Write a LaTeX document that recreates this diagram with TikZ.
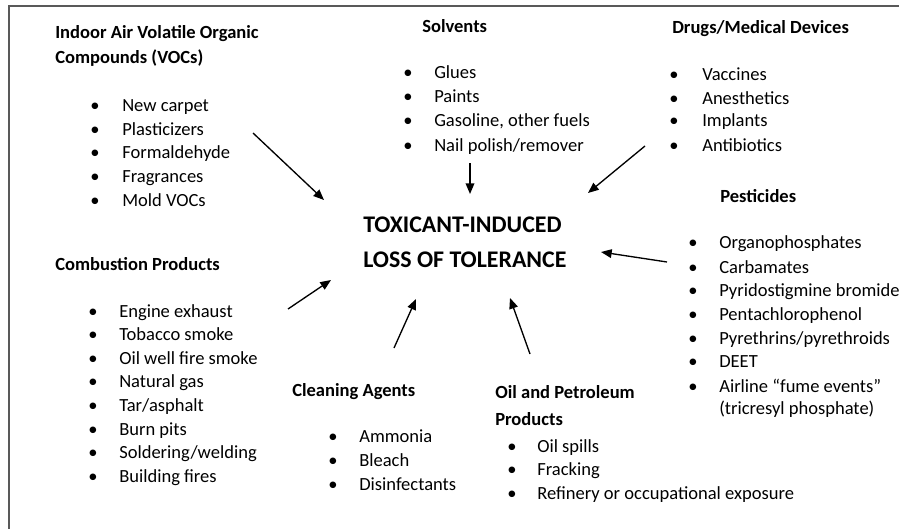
\documentclass[tikz,border=0pt]{standalone}
\usepackage{fontspec}
\setmainfont{Carlito}
\usetikzlibrary{arrows.meta}

\tikzset{
  head/.style={anchor=base west, inner sep=0pt, font=\fontsize{13.9}{16}\selectfont\bfseries},
  item/.style={anchor=base west, inner sep=0pt, font=\fontsize{13.9}{16}\selectfont},
  title/.style={anchor=base west, inner sep=0pt, font=\fontsize{17.9}{20}\selectfont\bfseries},
  feed/.style={line width=1pt, -{Triangle[length=8pt,width=6.5pt]}},
  frame/.style={line width=1.4pt, draw=black!65},
}

% one bullet line: name, bullet x, text x, baseline y, text
\newcommand\bulletline[5]{%
  \node[item] (#1dot) at (#2,#4) {•};
  \node[item] (#1) at (#3,#4) {#5};
}

\begin{document}
\begin{tikzpicture}[x=0.75pt, y=-0.75pt]
\useasboundingbox (0,0) rectangle (899,528);

% outer frame (left and top edges)
\draw[frame] (9,540) -- (9,6) -- (910,6);

% central outcome
\node[title] (tilt1) at (363,232) {TOXICANT-INDUCED};
\node[title] (tilt2) at (363,267) {LOSS OF TOLERANCE};

% indoor air VOCs
\node[head] (vocA) at (55,39) {Indoor Air Volatile Organic};
\node[head] (vocB) at (55,64) {Compounds (VOCs)};
\bulletline{voc1}{90}{122}{111}{New carpet}
\bulletline{voc2}{90}{122}{135}{Plasticizers}
\bulletline{voc3}{90}{122}{158}{Formaldehyde}
\bulletline{voc4}{90}{122}{182}{Fragrances}
\bulletline{voc5}{90}{122}{206}{Mold VOCs}

% solvents
\node[head] (solv) at (422,33) {Solvents};
\bulletline{sol1}{403}{434}{79}{Glues}
\bulletline{sol2}{403}{434}{103}{Paints}
\bulletline{sol3}{403}{434}{127}{Gasoline, other fuels}
\bulletline{sol4}{403}{434}{151}{Nail polish/remover}

% drugs and medical devices
\node[head] (drug) at (672,34) {Drugs/Medical Devices};
\bulletline{drg1}{669}{702}{80}{Vaccines}
\bulletline{drg2}{669}{702}{104}{Anesthetics}
\bulletline{drg3}{669}{702}{127}{Implants}
\bulletline{drg4}{669}{702}{151}{Antibiotics}

% pesticides
\node[head] (pest) at (720,202) {Pesticides};
\bulletline{pst1}{688}{719}{248}{Organophosphates}
\bulletline{pst2}{688}{719}{273}{Carbamates}
\bulletline{pst3}{688}{719}{296}{Pyridostigmine bromide}
\bulletline{pst4}{688}{719}{320}{Pentachlorophenol}
\bulletline{pst5}{688}{719}{344}{Pyrethrins/pyrethroids}
\bulletline{pst6}{688}{719}{367}{DEET}
\bulletline{pst7}{688}{719}{392}{Airline “fume events”}
\node[item] (pst8) at (719,414) {(tricresyl phosphate)};

% combustion products
\node[head] (comb) at (55,270) {Combustion Products};
\bulletline{cmb1}{88}{119}{317}{Engine exhaust}
\bulletline{cmb2}{88}{119}{340}{Tobacco smoke}
\bulletline{cmb3}{88}{119}{364}{Oil well fire smoke}
\bulletline{cmb4}{88}{119}{387}{Natural gas}
\bulletline{cmb5}{88}{119}{411}{Tar/asphalt}
\bulletline{cmb6}{88}{119}{435}{Burn pits}
\bulletline{cmb7}{88}{119}{458}{Soldering/welding}
\bulletline{cmb8}{88}{119}{482}{Building fires}

% cleaning agents
\node[head] (clean) at (292,396) {Cleaning Agents};
\bulletline{cln1}{328}{359}{442}{Ammonia}
\bulletline{cln2}{328}{359}{466}{Bleach}
\bulletline{cln3}{328}{359}{490}{Disinfectants}

% oil and petroleum products
\node[head] (oilA) at (495,398) {Oil and Petroleum};
\node[head] (oilB) at (495,425) {Products};
\bulletline{oil1}{507}{537}{452}{Oil spills}
\bulletline{oil2}{507}{537}{475}{Fracking}
\bulletline{oil3}{507}{537}{499}{Refinery or occupational exposure}

% arrow ends
\coordinate (vocS) at (253,133);  \coordinate (vocT) at (324,200);
\coordinate (solS) at (470,163);  \coordinate (solT) at (470,194);
\coordinate (drgS) at (645,146);  \coordinate (drgT) at (588,193);
\coordinate (pstS) at (667,262);  \coordinate (pstT) at (601,252);
\coordinate (cmbS) at (288,309);  \coordinate (cmbT) at (331,280);
\coordinate (clnS) at (394,348);  \coordinate (clnT) at (416,299);
\coordinate (oilS) at (530,354);  \coordinate (oilT) at (510,298);

\draw[feed] (vocS) -- (vocT);
\draw[feed] (solS) -- (solT);
\draw[feed] (drgS) -- (drgT);
\draw[feed] (pstS) -- (pstT);
\draw[feed] (cmbS) -- (cmbT);
\draw[feed] (clnS) -- (clnT);
\draw[feed] (oilS) -- (oilT);
\end{tikzpicture}
\end{document}
